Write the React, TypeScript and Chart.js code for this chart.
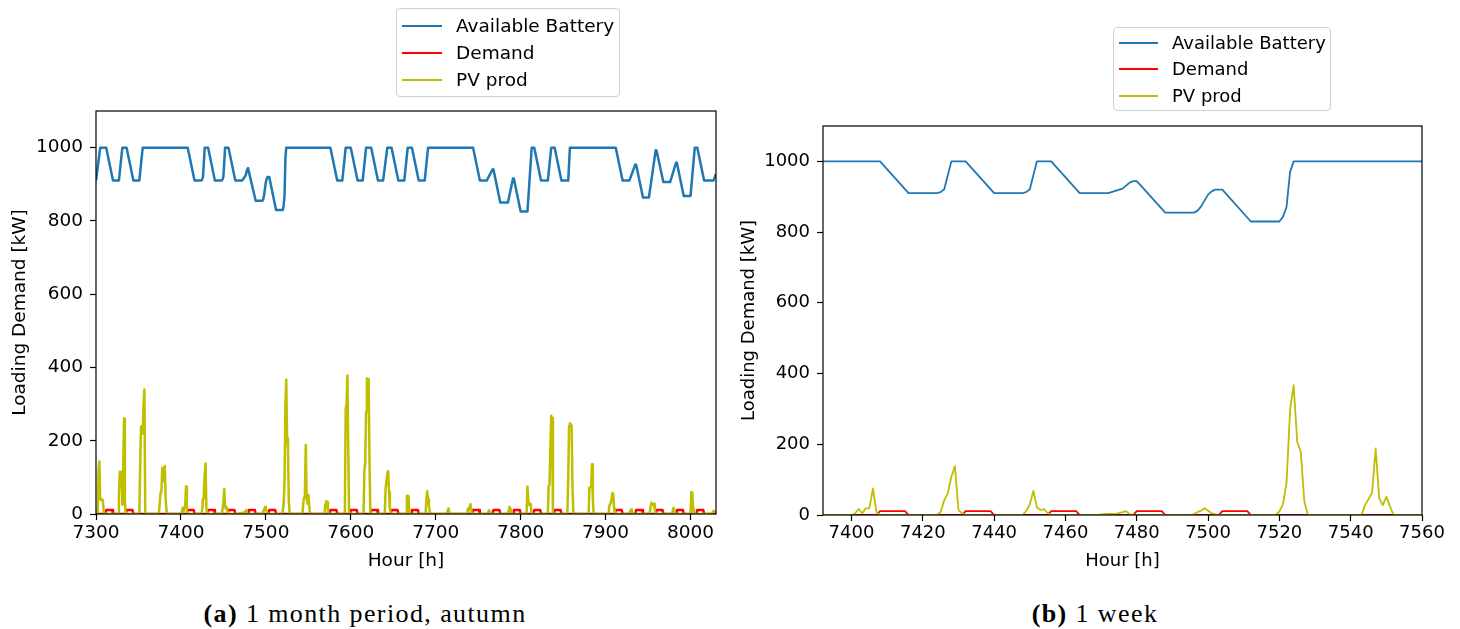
import React, { useEffect, useRef } from "react";
import { Chart, registerables } from "chart.js";

Chart.register(...registerables);

// Hourly state of the storage system, as [hour, kW] breakpoints
const batteryPoints: [number, number][] = [
  [7300, 910], [7301, 910], [7305, 1000], [7312, 1000], [7320, 910], [7327, 910], [7331, 1000],
  [7336, 1000], [7344, 910], [7351, 910], [7355, 1000],
  [7408, 1000], [7416, 910], [7424, 910], [7425, 913], [7426, 921], [7428, 1000], [7432, 1000],
  [7440, 910], [7448, 910], [7449, 913], [7450, 921], [7452, 1000], [7456, 1000], [7464, 910],
  [7472, 910], [7476, 923], [7478, 940], [7479, 944], [7480, 944], [7488, 855], [7496, 855],
  [7497, 860], [7498, 872], [7500, 906], [7501, 915], [7502, 920], [7504, 920], [7512, 830],
  [7520, 830], [7521, 843], [7522, 871], [7523, 970], [7524, 1000],
  [7576, 1000], [7584, 910], [7590, 910], [7594, 1000], [7600, 1000], [7608, 910], [7614, 910],
  [7618, 1000], [7624, 1000], [7632, 910], [7638, 910], [7643, 1000], [7648, 1000], [7656, 910],
  [7663, 910], [7667, 1000], [7672, 1000], [7680, 910], [7687, 910], [7691, 1000],
  [7744, 1000], [7752, 910], [7760, 910], [7767, 941], [7768, 940], [7776, 850], [7785, 850],
  [7791, 916], [7792, 915], [7800, 826], [7808, 826], [7813, 1000], [7816, 1000], [7824, 910],
  [7832, 910], [7836, 1000], [7840, 1000], [7848, 910], [7856, 910], [7858, 1000],
  [7912, 1000], [7920, 910], [7928, 910], [7935, 954], [7936, 953], [7944, 864], [7951, 864],
  [7959, 993], [7960, 992], [7968, 906], [7976, 906], [7983, 959], [7984, 958], [7992, 868],
  [8000, 868], [8005, 1000], [8008, 1000], [8016, 910], [8027, 910], [8030, 928],
];

// Evening loading windows: [first hour, last hour] at the loading level
const demandWindows: [number, number][] = [
  [7312, 7319], [7336, 7343], [7408, 7415], [7432, 7439], [7456, 7463], [7480, 7487],
  [7504, 7511], [7576, 7583], [7600, 7607], [7624, 7631], [7648, 7655], [7672, 7679],
  [7744, 7751], [7768, 7775], [7792, 7799], [7816, 7823], [7840, 7847], [7912, 7919],
  [7936, 7943], [7960, 7967], [7984, 7991], [8008, 8015],
];
const demandLevel = 11;

// Solar production, [hour, kW]
const pvPoints: [number, number][] = [
  [7300, 0], [7302, 0], [7303, 120], [7304, 143], [7305, 40], [7306, 38], [7307, 40], [7308, 38], [7309, 10], [7310, 0],
  [7326, 0], [7327, 50], [7328, 115], [7329, 112], [7330, 115], [7331, 25], [7332, 120], [7333, 261], [7334, 30], [7335, 0],
  [7351, 0], [7352, 130], [7353, 238], [7354, 240], [7355, 220], [7356, 300], [7357, 340], [7358, 0],
  [7374, 0], [7375, 30], [7376, 57], [7377, 60], [7378, 126], [7379, 90], [7380, 110], [7381, 131], [7382, 40], [7383, 10], [7384, 0],
  [7400, 0], [7401, 5], [7402, 17], [7403, 5], [7404, 19], [7405, 19], [7406, 75], [7407, 8], [7408, 0],
  [7424, 0], [7425, 9], [7426, 42], [7427, 61], [7428, 108], [7429, 138], [7430, 14], [7431, 5], [7432, 0],
  [7448, 0], [7449, 12], [7450, 30], [7451, 68], [7452, 21], [7453, 14], [7454, 17], [7455, 5], [7456, 0],
  [7469, 0], [7470, 2], [7472, 3], [7474, 3], [7475, 5], [7477, 11], [7478, 2], [7479, 0],
  [7495, 0], [7496, 2], [7497, 8], [7498, 12], [7499, 19], [7500, 12], [7501, 5], [7502, 2], [7503, 0],
  [7519, 0], [7520, 10], [7521, 30], [7522, 90], [7523, 297], [7524, 367], [7525, 207], [7526, 179], [7527, 38], [7528, 0],
  [7543, 0], [7544, 28], [7545, 45], [7546, 63], [7547, 188], [7548, 47], [7549, 28], [7550, 52], [7551, 25], [7552, 0],
  [7569, 0], [7570, 25], [7571, 35], [7572, 33], [7573, 10], [7574, 0],
  [7593, 0], [7594, 286], [7595, 300], [7596, 378], [7597, 180], [7598, 0],
  [7615, 0], [7616, 118], [7617, 140], [7618, 280], [7619, 370], [7620, 368], [7621, 368], [7622, 150], [7623, 0],
  [7640, 0], [7641, 70], [7642, 90], [7643, 110], [7644, 117], [7645, 60], [7646, 15], [7647, 0],
  [7665, 0], [7666, 50], [7667, 50], [7668, 48], [7669, 0],
  [7688, 0], [7689, 40], [7690, 62], [7691, 40], [7692, 20], [7693, 8], [7694, 0],
  [7713, 0], [7714, 8], [7715, 15], [7716, 5], [7717, 0],
  [7737, 0], [7738, 15], [7739, 10], [7740, 20], [7741, 27], [7742, 8], [7743, 0],
  [7761, 0], [7762, 6], [7763, 10], [7764, 4], [7765, 0],
  [7785, 0], [7786, 10], [7787, 20], [7788, 15], [7789, 0],
  [7807, 0], [7808, 75], [7809, 40], [7810, 25], [7811, 27], [7812, 20], [7813, 0],
  [7832, 0], [7833, 77], [7834, 80], [7835, 180], [7836, 268], [7837, 262], [7838, 0],
  [7855, 0], [7856, 100], [7857, 240], [7858, 248], [7859, 245], [7860, 240], [7861, 80], [7862, 0],
  [7880, 0], [7881, 72], [7882, 72], [7883, 75], [7884, 136], [7885, 40], [7886, 0],
  [7903, 0], [7904, 20], [7905, 25], [7906, 30], [7907, 40], [7908, 57], [7909, 55], [7910, 15], [7911, 0],
  [7928, 0], [7929, 8], [7930, 12], [7931, 6], [7932, 0],
  [7952, 0], [7953, 20], [7954, 31], [7955, 25], [7956, 26], [7957, 28], [7958, 10], [7959, 0],
  [7978, 0], [7979, 8], [7980, 17], [7981, 10], [7982, 0],
  [8000, 0], [8001, 60], [8002, 58], [8003, 15], [8004, 0],
  [8025, 0], [8026, 4], [8027, 8], [8028, 8], [8029, 6], [8030, 4],
];

const monthTicks = [7300, 7400, 7500, 7600, 7700, 7800, 7900, 8000];
const weekTicks = [7400, 7420, 7440, 7460, 7480, 7500, 7520, 7540, 7560];
const kwTicks = [0, 200, 400, 600, 800, 1000];

const seriesLabels = ["Available Battery", "Demand", "PV prod"];
const seriesColors = ["#1f77b4", "#ff0000", "#bfbf00"];

const FONT = "'DejaVu Sans', sans-serif";
const SERIF = "'Liberation Serif', 'DejaVu Serif', serif";

function demandSeries(from: number, to: number) {
  const pts: { x: number; y: number }[] = [{ x: from, y: 0 }];
  for (const [a, b] of demandWindows) {
    pts.push({ x: a - 1, y: 0 }, { x: a, y: demandLevel }, { x: b, y: demandLevel }, { x: b + 1, y: 0 });
  }
  pts.push({ x: to, y: 0 });
  return pts;
}

const toXY = (p: [number, number][]) => p.map(([x, y]) => ({ x, y }));

const framePlugin = {
  id: "frame",
  afterDatasetsDraw(chart: any) {
    const { ctx, chartArea: a } = chart;
    ctx.save();
    ctx.strokeStyle = "#000";
    ctx.lineWidth = 1.2;
    ctx.strokeRect(a.left, a.top, a.right - a.left, a.bottom - a.top);
    ctx.restore();
  },
};

type PanelProps = {
  left: number;
  width: number;
  height: number;
  xMin: number;
  xMax: number;
  xTicks: number[];
  lineWidth: number;
  yAxisWidth: number;
  xAxisHeight: number;
  padTop: number;
  padRight: number;
  fontSize: number;
};

function Panel(p: PanelProps) {
  const ref = useRef<HTMLCanvasElement | null>(null);
  useEffect(() => {
    if (!ref.current) return;
    const font = { family: FONT, size: p.fontSize };
    const data = [toXY(batteryPoints), demandSeries(7300, 8030), toXY(pvPoints)];
    const chart = new Chart(ref.current, {
      type: "line",
      data: {
        datasets: data.map((d, i) => ({
          label: seriesLabels[i],
          data: d,
          borderColor: seriesColors[i],
          backgroundColor: seriesColors[i],
          borderWidth: p.lineWidth,
          pointRadius: 0,
          tension: 0,
          fill: false,
          borderJoinStyle: "round" as const,
          order: 3 - i,
        })),
      },
      options: {
        animation: false,
        responsive: false,
        maintainAspectRatio: false,
        devicePixelRatio: 1,
        layout: { padding: { left: 0, right: p.padRight, top: p.padTop, bottom: 0 }, autoPadding: false },
        plugins: { legend: { display: false }, tooltip: { enabled: false } },
        scales: {
          x: {
            type: "linear",
            min: p.xMin,
            max: p.xMax,
            afterBuildTicks: (s: any) => {
              s.ticks = p.xTicks.map((value) => ({ value }));
            },
            afterFit: (s: any) => {
              s.height = p.xAxisHeight;
            },
            ticks: {
              font,
              color: "#000",
              padding: 2,
              maxRotation: 0,
              autoSkip: false,
              callback: (v: any) => String(v),
            },
            grid: { drawOnChartArea: false, drawTicks: true, tickLength: 6, tickWidth: 1.2, tickColor: "#000" },
            border: { display: false },
            title: { display: true, text: "Hour [h]", font, color: "#000", padding: { top: 0, bottom: 8 } },
          },
          y: {
            type: "linear",
            min: 0,
            max: 1100,
            afterBuildTicks: (s: any) => {
              s.ticks = kwTicks.map((value) => ({ value }));
            },
            afterFit: (s: any) => {
              s.width = p.yAxisWidth;
            },
            ticks: { font, color: "#000", padding: 7, callback: (v: any) => String(v) },
            grid: { drawOnChartArea: false, drawTicks: true, tickLength: 6, tickWidth: 1.2, tickColor: "#000" },
            border: { display: false },
            title: { display: true, text: "Loading Demand [kW]", font, color: "#000", padding: { top: 9, bottom: 0 } },
          },
        },
      },
      plugins: [framePlugin],
    } as any);
    return () => chart.destroy();
  }, []);
  return (
    <canvas
      ref={ref}
      width={p.width}
      height={p.height}
      style={{ position: "absolute", left: p.left, top: 0, width: p.width, height: p.height }}
    />
  );
}

type LegendProps = { left: number; top: number; width: number; height: number; rows: number[]; textLeft: number; lineEnd: number; fontSize: number };

function Legend(l: LegendProps) {
  return (
    <div
      style={{
        position: "absolute",
        left: l.left,
        top: l.top,
        width: l.width,
        height: l.height,
        boxSizing: "border-box",
        border: "1px solid #d0d0d0",
        borderRadius: 4,
        background: "rgba(255,255,255,0.8)",
        fontFamily: FONT,
        fontSize: l.fontSize,
        color: "#000",
      }}
    >
      {seriesLabels.map((label, i) => (
        <React.Fragment key={label}>
          <div
            style={{
              position: "absolute",
              left: 5,
              width: l.lineEnd - 5,
              top: l.rows[i] - 1,
              height: 2,
              background: seriesColors[i],
            }}
          />
          <div
            style={{
              position: "absolute",
              left: l.textLeft,
              top: l.rows[i] - 12,
              height: 24,
              lineHeight: "24px",
              whiteSpace: "nowrap",
            }}
          >
            {label}
          </div>
        </React.Fragment>
      ))}
    </div>
  );
}

function Caption({ left, tag, text }: { left: number; tag: string; text: string }) {
  return (
    <div
      style={{
        position: "absolute",
        left,
        width: 730,
        top: 600,
        textAlign: "center",
        fontFamily: SERIF,
        fontSize: 26,
        lineHeight: "28px",
        letterSpacing: 1.4,
        color: "#000",
        whiteSpace: "nowrap",
      }}
    >
      <b>{tag}</b>&nbsp;{text}
    </div>
  );
}

export default function App() {
  return (
    <div style={{ position: "fixed", left: 0, top: 0, width: 1460, height: 629, background: "#fff", overflow: "hidden" }}>
      <Panel
        left={0}
        width={730}
        height={580}
        xMin={7300}
        xMax={8030}
        xTicks={monthTicks}
        lineWidth={2.5}
        yAxisWidth={96}
        xAxisHeight={66}
        padTop={111}
        padRight={14}
        fontSize={18.5}
      />
      <Panel
        left={730}
        width={730}
        height={580}
        xMin={7392}
        xMax={7560}
        xTicks={weekTicks}
        lineWidth={1.8}
        yAxisWidth={93}
        xAxisHeight={65}
        padTop={126}
        padRight={38}
        fontSize={18}
      />
      <Legend left={396} top={8} width={224} height={89} rows={[17, 44, 71]} textLeft={59} lineEnd={45} fontSize={18.5} />
      <Legend left={1113} top={27} width={218} height={84} rows={[15, 41, 68]} textLeft={58} lineEnd={44} fontSize={18} />
      <Caption left={0} tag="(a)" text="1 month period, autumn" />
      <Caption left={730} tag="(b)" text="1 week" />
    </div>
  );
}
